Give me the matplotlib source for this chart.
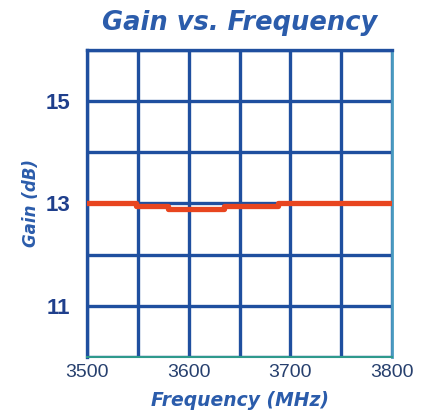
import matplotlib
matplotlib.use("Agg")
import matplotlib.pyplot as plt

# Values (stepped gain trace)
freq_mhz = [3500, 3548, 3580, 3635, 3688, 3800]
gain_db = [13.0, 12.95, 12.9, 12.95, 13.0, 13.0]

x_ticks = [3500, 3550, 3600, 3650, 3700, 3750, 3800]
x_labels = ["3500", "", "3600", "", "3700", "", "3800"]
y_ticks = [10, 11, 12, 13, 14, 15, 16]
y_labels = ["", "11", "", "13", "", "15", ""]

BLUE = "#1f4f9f"
RED = "#e8451f"
TITLE_BLUE = "#2b5cab"

fig = plt.figure(figsize=(4.23, 4.16), dpi=100)
ax = fig.add_axes([0.206, 0.142, 0.721, 0.738])

ax.step(freq_mhz, gain_db, where="post", color=RED, linewidth=3.8, zorder=5)

ax.set_xlim(3500, 3800)
ax.set_ylim(10, 16)
ax.set_xticks(x_ticks)
ax.set_xticklabels(x_labels, fontsize=14, color="#27406e", family="Liberation Sans")
ax.set_yticks(y_ticks)
ax.set_yticklabels(y_labels, fontsize=16, fontweight="bold", color="#1f3f8c",
                   family="Liberation Sans")
ax.tick_params(length=0, pad=12)
ax.tick_params(axis="x", pad=5)
ax.grid(True, color=BLUE, linewidth=2.4)
ax.set_axisbelow(True)

for side in ["left", "top"]:
    ax.spines[side].set_color(BLUE)
    ax.spines[side].set_linewidth(2.4)
ax.spines["bottom"].set_color("#2e9a8c")
ax.spines["bottom"].set_linewidth(1.5)
ax.spines["right"].set_color("#4a9ac0")
ax.spines["right"].set_linewidth(2.0)

ax.set_title("Gain vs. Frequency", fontsize=18.5, fontweight="bold", style="italic",
             color=TITLE_BLUE, pad=14, family="DejaVu Sans")
ax.set_xlabel("Frequency (MHz)", fontsize=13.5, fontweight="bold", style="italic",
              color=TITLE_BLUE, labelpad=7, family="DejaVu Sans")
ax.set_ylabel("Gain (dB)", fontsize=12, fontweight="bold", style="italic",
              color=TITLE_BLUE, labelpad=4, family="DejaVu Sans")

fig.savefig("out.png", dpi=100)
